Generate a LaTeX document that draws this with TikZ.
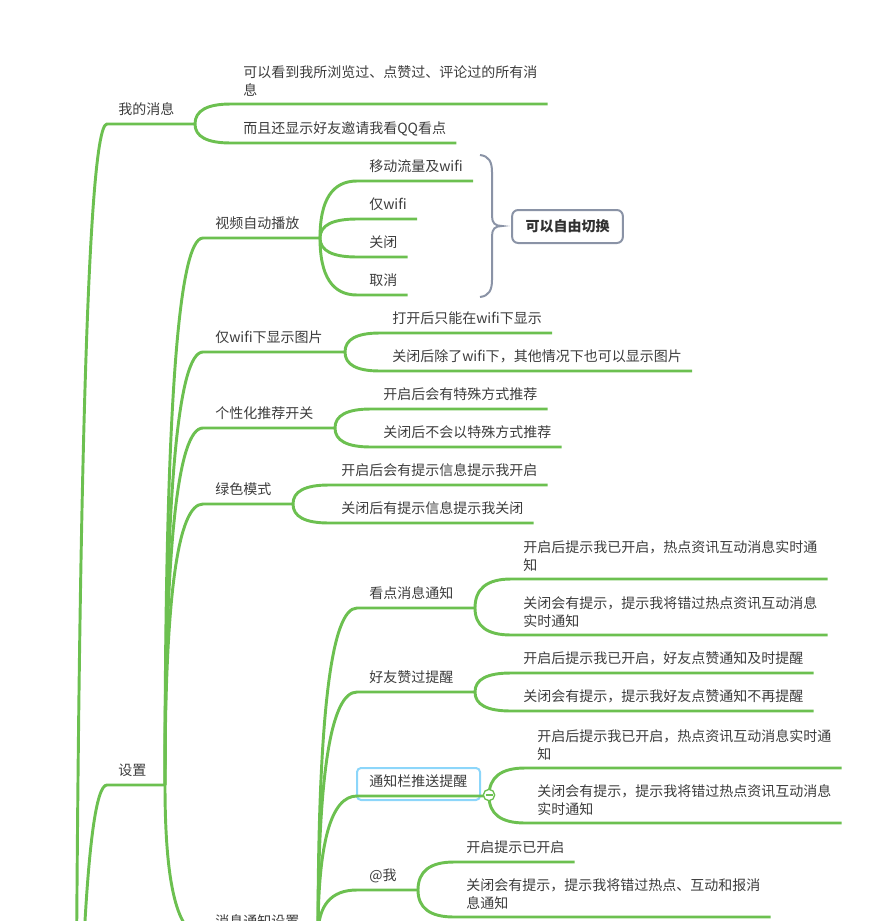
\documentclass[tikz,border=0pt]{standalone}
\usepackage{fontspec}
\setmainfont{Noto Sans CJK SC}
\usetikzlibrary{calc}
\definecolor{lngreen}{RGB}{108,192,80}
\definecolor{txtgray}{RGB}{60,60,60}
\definecolor{bracegray}{RGB}{138,147,166}
\definecolor{selblue}{RGB}{140,214,250}
\tikzset{
  ln/.style={draw=lngreen, line width=2.2pt},
  tpc/.style={anchor=base west, inner sep=0pt, text=txtgray, align=left,
    font=\fontsize{10.5}{13.5}\selectfont},
  limb/.style={to path={.. controls ($(\tikztostart)!.667!(\tikztostart|-\tikztotarget)$)
    and ($(\tikztotarget)!.667!(\tikztostart|-\tikztotarget)$) .. (\tikztotarget)}},
  sumbox/.style={draw=bracegray, line width=1.5pt, rounded corners=4.5pt, fill=white,
    minimum width=83pt, minimum height=24.75pt, inner sep=0pt, text=txtgray!80!black,
    font=\fontsize{10.5}{13.5}\selectfont\bfseries},
  selbox/.style={draw=selblue, line width=1.5pt, rounded corners=3pt},
}

\begin{document}
\begin{tikzpicture}[x=0.75pt, y=-0.75pt]
\useasboundingbox (0,0) rectangle (894,921);
\clip (0,0) rectangle (894,921);
\coordinate (root) at (75,1486);

% my messages
\coordinate (wdxxL) at (107,124); \coordinate (wdxxJ) at (195,124);
\node[tpc] (wdxx) at (118,114.5) {我的消息};
\draw[ln] (root) to[limb] (wdxxL) -- (wdxxJ);
\coordinate (kykL) at (231,104);
\node[tpc] (kyk) at (243,95) {可以看到我所浏览过、点赞过、评论过的所有消\\息};
\draw[ln] (wdxxJ) to[limb] (kykL) -- (kykL -| kyk.east) -- ++(10,0);
\coordinate (qqL) at (231,143);
\node[tpc] (qq) at (243,133.5) {而且还显示好友邀请我看QQ看点};
\draw[ln] (wdxxJ) to[limb] (qqL) -- (qqL -| qq.east) -- ++(10,0);

% settings
\coordinate (szL) at (107,785); \coordinate (szJ) at (165,785);
\node[tpc] (sz) at (118,775.5) {设置};
\draw[ln] (root) to[limb] (szL) -- (szJ);

% video autoplay
\coordinate (spL) at (203,238); \coordinate (spJ) at (320,238);
\node[tpc] (sp) at (215,228.5) {视频自动播放};
\draw[ln] (szJ) to[limb] (spL) -- (spJ);
\coordinate (ydL) at (357,181);
\node[tpc] (yd) at (369,171.5) {移动流量及wifi};
\draw[ln] (spJ) to[limb] (ydL) -- (ydL -| yd.east) -- ++(10,0);
\coordinate (jwL) at (357,219);
\node[tpc] (jw) at (369,209.5) {仅wifi};
\draw[ln] (spJ) to[limb] (jwL) -- (jwL -| jw.east) -- ++(10,0);
\coordinate (gbL) at (357,257);
\node[tpc] (gb) at (369,247.5) {关闭};
\draw[ln] (spJ) to[limb] (gbL) -- (gbL -| gb.east) -- ++(10,0);
\coordinate (qxL) at (357,295);
\node[tpc] (qx) at (369,285.5) {取消};
\draw[ln] (spJ) to[limb] (qxL) -- (qxL -| qx.east) -- ++(10,0);

% summary brace
\coordinate (brT) at (480,155); \coordinate (brB) at (480,297); \coordinate (brM) at (502,226);
\draw[draw=bracegray, line width=1.5pt] (brT) .. controls (489,156) and (492,162) .. (492,172)
  -- (492,216) .. controls (492,223) and (495,226) .. (brM)
  .. controls (495,226) and (492,229) .. (492,236) -- (492,280)
  .. controls (492,290) and (489,296) .. (brB);
\node[sumbox] (zyqh) at (567.5,226.5) {可以自由切换};

% pictures on wifi only
\coordinate (tpL) at (203,352); \coordinate (tpJ) at (345,352);
\node[tpc] (tp) at (215,342.5) {仅wifi下显示图片};
\draw[ln] (szJ) to[limb] (tpL) -- (tpJ);
\coordinate (dkL) at (380,333);
\node[tpc] (dk) at (392,323.5) {打开后只能在wifi下显示};
\draw[ln] (tpJ) to[limb] (dkL) -- (dkL -| dk.east) -- ++(10,0);
\coordinate (gcL) at (380,371);
\node[tpc] (gc) at (392,361.5) {关闭后除了wifi下，其他情况下也可以显示图片};
\draw[ln] (tpJ) to[limb] (gcL) -- (gcL -| gc.east) -- ++(10,0);

% personal recommendation
\coordinate (gxL) at (203,428); \coordinate (gxJ) at (335,428);
\node[tpc] (gx) at (215,418.5) {个性化推荐开关};
\draw[ln] (szJ) to[limb] (gxL) -- (gxJ);
\coordinate (gxkL) at (371,409);
\node[tpc] (gxk) at (383,399.5) {开启后会有特殊方式推荐};
\draw[ln] (gxJ) to[limb] (gxkL) -- (gxkL -| gxk.east) -- ++(10,0);
\coordinate (gxgL) at (371,447);
\node[tpc] (gxg) at (383,437.5) {关闭后不会以特殊方式推荐};
\draw[ln] (gxJ) to[limb] (gxgL) -- (gxgL -| gxg.east) -- ++(10,0);

% green mode
\coordinate (lsL) at (203,504); \coordinate (lsJ) at (293,504);
\node[tpc] (ls) at (215,494.5) {绿色模式};
\draw[ln] (szJ) to[limb] (lsL) -- (lsJ);
\coordinate (lskL) at (329,485);
\node[tpc] (lsk) at (341,475.5) {开启后会有提示信息提示我开启};
\draw[ln] (lsJ) to[limb] (lskL) -- (lskL -| lsk.east) -- ++(10,0);
\coordinate (lsgL) at (329,523);
\node[tpc] (lsg) at (341,513.5) {关闭后有提示信息提示我关闭};
\draw[ln] (lsJ) to[limb] (lsgL) -- (lsgL -| lsg.east) -- ++(10,0);

% notification settings
\coordinate (tzL) at (203,936); \coordinate (tzJ) at (318,936);
\node[tpc] (tz) at (215,926.5) {消息通知设置};
\draw[ln] (szJ) to[limb] (tzL) -- (tzJ);

\coordinate (kdL) at (357,608); \coordinate (kdJ) at (475,608);
\node[tpc] (kd) at (369,598.5) {看点消息通知};
\draw[ln] (tzJ) to[limb] (kdL) -- (kdJ);
\coordinate (kdkL) at (511,579);
\node[tpc] (kdk) at (523,570) {开启后提示我已开启，热点资讯互动消息实时通\\知};
\draw[ln] (kdJ) to[limb] (kdkL) -- (kdkL -| kdk.east) -- ++(10,0);
\coordinate (kdgL) at (511,635);
\node[tpc] (kdg) at (523,626) {关闭会有提示，提示我将错过热点资讯互动消息\\实时通知};
\draw[ln] (kdJ) to[limb] (kdgL) -- (kdgL -| kdg.east) -- ++(10,0);

\coordinate (hyL) at (357,692); \coordinate (hyJ) at (475,692);
\node[tpc] (hy) at (369,682.5) {好友赞过提醒};
\draw[ln] (tzJ) to[limb] (hyL) -- (hyJ);
\coordinate (hykL) at (511,673);
\node[tpc] (hyk) at (523,663.5) {开启后提示我已开启，好友点赞通知及时提醒};
\draw[ln] (hyJ) to[limb] (hykL) -- (hykL -| hyk.east) -- ++(10,0);
\coordinate (hygL) at (511,711);
\node[tpc] (hyg) at (523,701.5) {关闭会有提示，提示我好友点赞通知不再提醒};
\draw[ln] (hyJ) to[limb] (hygL) -- (hygL -| hyg.east) -- ++(10,0);

\coordinate (tlL) at (357,796); \coordinate (tlJ) at (489,796);
\draw[selbox] (357,768) rectangle (480,800);
\node[tpc] (tl) at (369,786.5) {通知栏推送提醒};
\draw[ln] (tzJ) to[limb] (tlL) -- (tlJ);
\coordinate (tlkL) at (525,768);
\node[tpc] (tlk) at (537,759) {开启后提示我已开启，热点资讯互动消息实时通\\知};
\draw[ln] (tlJ) to[limb] (tlkL) -- (tlkL -| tlk.east) -- ++(10,0);
\coordinate (tlgL) at (525,823);
\node[tpc] (tlg) at (537,814) {关闭会有提示，提示我将错过热点资讯互动消息\\实时通知};
\draw[ln] (tlJ) to[limb] (tlgL) -- (tlgL -| tlg.east) -- ++(10,0);
\node[circle, draw=lngreen, fill=white, line width=1pt, minimum size=8.5pt, inner sep=0pt] (tlC) at (489,795) {};
\draw[lngreen, line width=0.9pt] ($(tlC.center)+(-3.5,0)$) -- ++(7,0);

\coordinate (atL) at (357,890); \coordinate (atJ) at (418,890);
\node[tpc] (at) at (369,880.5) {@我};
\draw[ln] (tzJ) to[limb] (atL) -- (atJ);
\coordinate (atkL) at (454,862);
\node[tpc] (atk) at (466,852.5) {开启提示已开启};
\draw[ln] (atJ) to[limb] (atkL) -- (atkL -| atk.east) -- ++(10,0);
\coordinate (atgL) at (454,917);
\node[tpc] (atg) at (466,908) {关闭会有提示，提示我将错过热点、互动和报消\\息通知};
\draw[ln] (atJ) to[limb] (atgL) -- (atgL -| atg.east) -- ++(10,0);
\end{tikzpicture}
\end{document}
